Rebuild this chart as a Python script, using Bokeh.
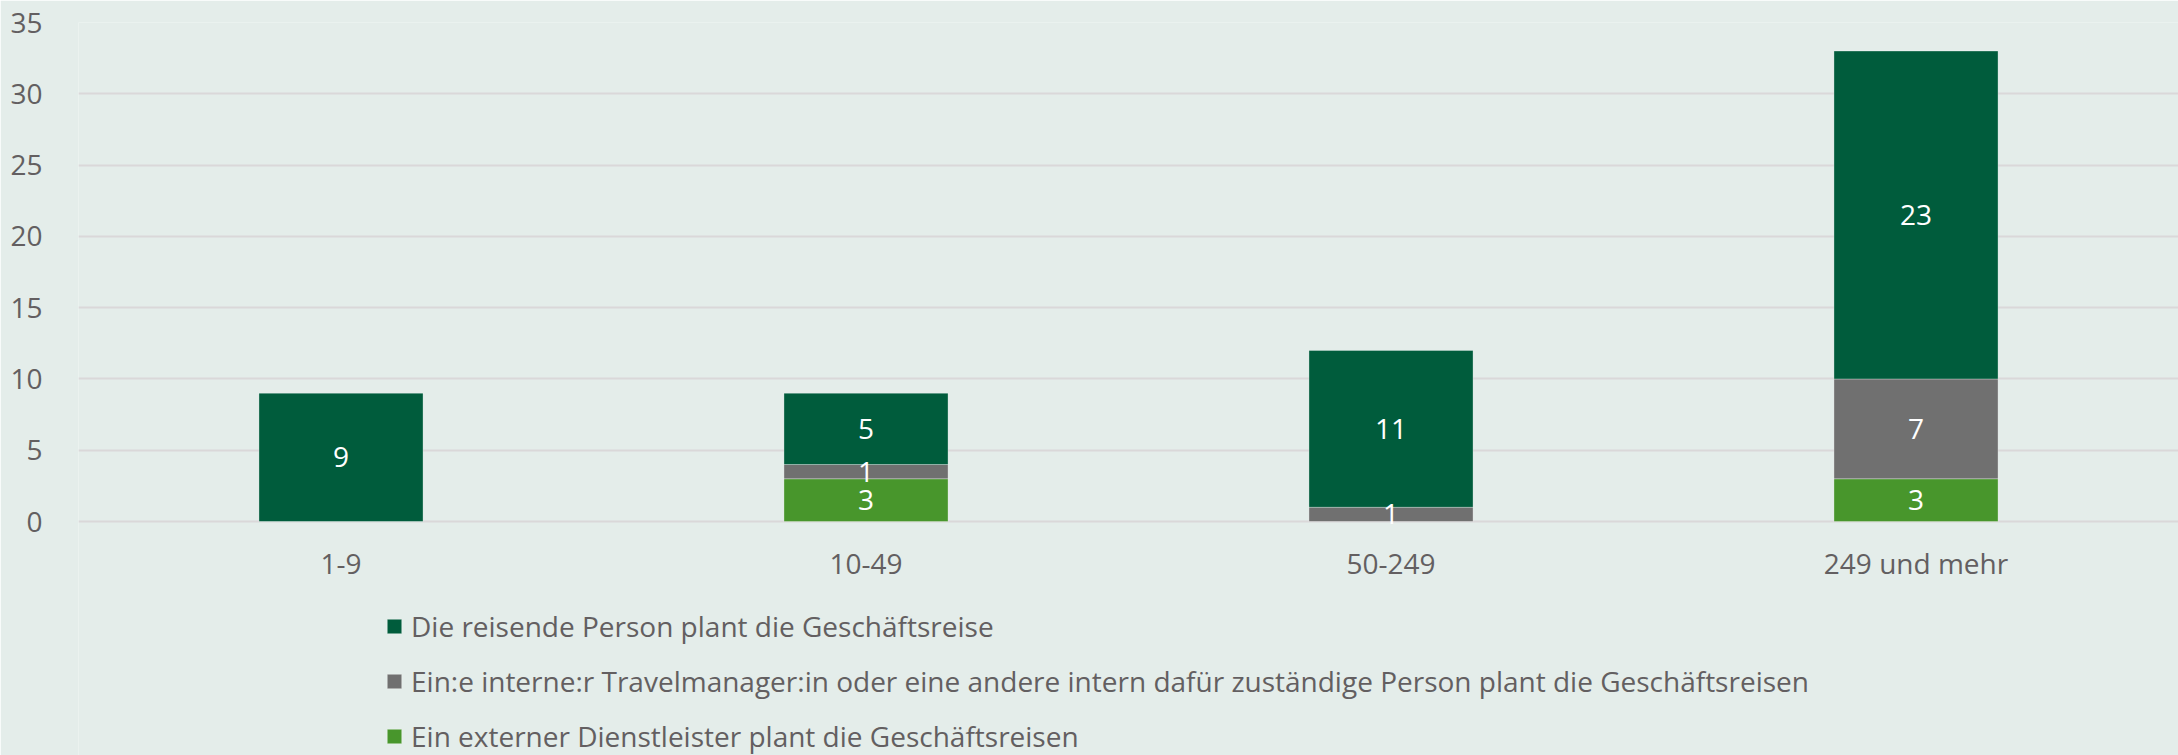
from bokeh.plotting import figure
from bokeh.models import ColumnDataSource, FactorRange, FixedTicker, Legend, LegendItem, Range1d
from bokeh.core.properties import value
from bokeh.embed import file_html
from bokeh.resources import INLINE

categories = ["1-9", "10-49", "50-249", "249 und mehr"]
reisende = [9, 5, 11, 23]
intern = [0, 1, 1, 7]
extern = [0, 3, 0, 3]
series_names = [
    "Die reisende Person plant die Geschäftsreise",
    "Ein:e interne:r Travelmanager:in oder eine andere intern dafür zuständige Person plant die Geschäftsreisen",
    "Ein externer Dienstleister plant die Geschäftsreisen",
]
y_ticks = [0, 5, 10, 15, 20, 25, 30, 35]

BG = "#E4EDEA"
TXT = "#635F61"
FONT = "Open Sans"
colors = {"extern": "#48962C", "intern": "#707070", "reisende": "#005C3C"}

src = ColumnDataSource(dict(cat=categories, extern=extern, intern=intern, reisende=reisende))

p = figure(
    x_range=FactorRange(factors=categories, range_padding=0),
    y_range=Range1d(-16.41, 35),
    width=2178, height=755,
    output_backend="svg", toolbar_location=None,
    min_border_left=78, min_border_right=0, min_border_top=22, min_border_bottom=0,
)
p.background_fill_color = BG
p.border_fill_color = BG
p.outline_line_color = None

renderers = p.vbar_stack(
    ["extern", "intern", "reisende"], x="cat", width=0.3125, source=src,
    color=[colors["extern"], colors["intern"], colors["reisende"]],
    line_color="white", line_alpha=0.3, line_width=1,
)

# data labels
lx, ly, lt = [], [], []
for i, c in enumerate(categories):
    base = 0
    for vals in (extern, intern, reisende):
        v = vals[i]
        if v > 0:
            lx.append(c)
            ly.append(base + v / 2)
            lt.append(str(v))
        base += v
p.text(x=lx, y=ly, text=lt, text_color="white", text_font=value(FONT),
       text_font_size="28px", text_align="center", text_baseline="middle")

# axes
p.xaxis.fixed_location = 0
p.xaxis.axis_line_color = None
p.xaxis.major_tick_line_color = None
p.xaxis.minor_tick_line_color = None
p.xaxis.major_label_text_font = FONT
p.xaxis.major_label_text_font_size = "28px"
p.xaxis.major_label_text_color = TXT
p.xaxis.major_label_standoff = 16

p.yaxis.ticker = FixedTicker(ticks=y_ticks)
p.yaxis.axis_line_color = None
p.yaxis.major_tick_line_color = None
p.yaxis.minor_tick_line_color = None
p.yaxis.major_label_text_font = FONT
p.yaxis.major_label_text_font_size = "28px"
p.yaxis.major_label_text_color = TXT
p.yaxis.major_label_standoff = 30

p.xgrid.grid_line_color = None
p.ygrid.grid_line_color = "#DAD8D9"
p.ygrid.grid_line_width = 2

legend = Legend(
    items=[
        LegendItem(label=series_names[0], renderers=[renderers[2]]),
        LegendItem(label=series_names[1], renderers=[renderers[1]]),
        LegendItem(label=series_names[2], renderers=[renderers[0]]),
    ],
    location=(307, 0),
    orientation="vertical",
    glyph_width=18, glyph_height=18,
    label_standoff=8, spacing=17, padding=0, margin=0,
    label_text_font=FONT, label_text_font_size="28px", label_text_color=TXT,
    border_line_color=None, background_fill_alpha=0,
)
p.add_layout(legend, "center")

open("out.html", "w").write(file_html(p, INLINE))
